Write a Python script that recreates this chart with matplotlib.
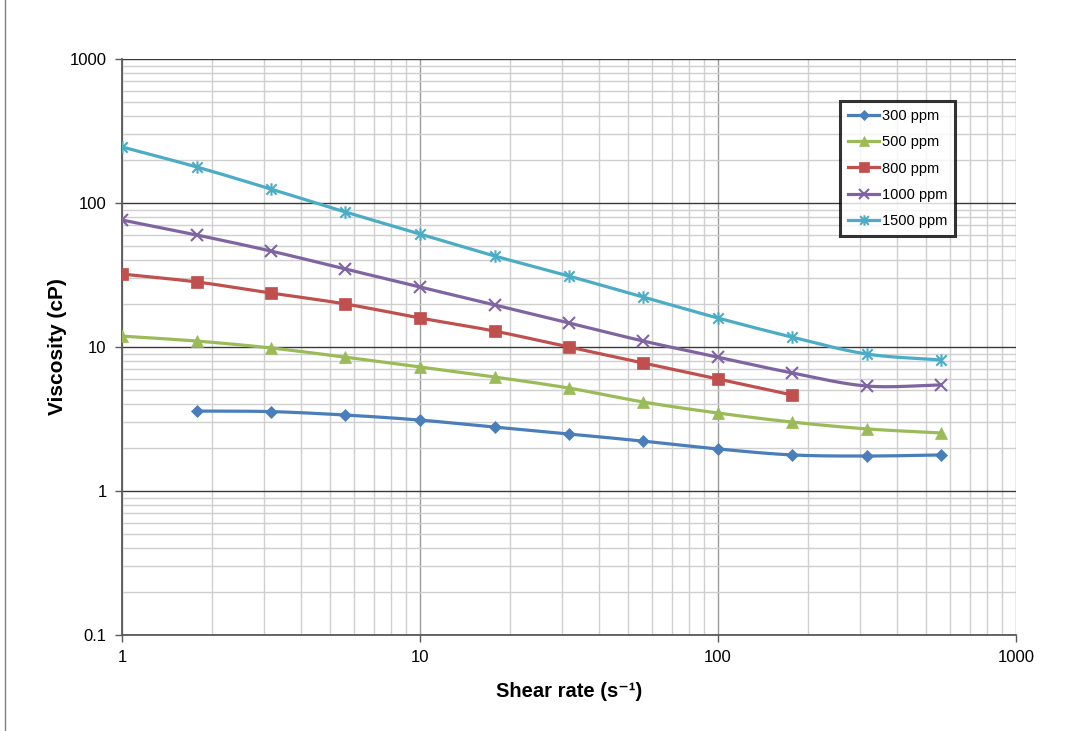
import numpy as np
import matplotlib
matplotlib.use("Agg")
import matplotlib.pyplot as plt
from matplotlib.ticker import LogLocator, NullFormatter
from matplotlib.lines import Line2D
from matplotlib.path import Path

plt.rcParams['font.family'] = ['Liberation Sans', 'DejaVu Sans']

# Shear rates (s^-1), four points per decade
shear_rate = [1.0, 1.78, 3.16, 5.62, 10.0, 17.8, 31.6, 56.2, 100.0, 178.0, 316.0, 562.0]

# Viscosity (cP) for each polymer concentration
visc_300 = [None, 3.59, 3.56, 3.37, 3.11, 2.78, 2.49, 2.22, 1.96, 1.78, 1.75, 1.78]
visc_500 = [11.9, 11.0, 9.85, 8.5, 7.27, 6.19, 5.19, 4.15, 3.48, 3.01, 2.70, 2.53]
visc_800 = [32.1, 28.3, 23.7, 19.9, 15.9, 12.9, 10.0, 7.74, 6.0, 4.64, None, None]
visc_1000 = [76.2, 60.0, 46.4, 34.8, 26.1, 19.6, 14.7, 11.0, 8.5, 6.6, 5.36, 5.45]
visc_1500 = [245, 178, 125, 86.6, 61.0, 42.9, 31.1, 22.2, 15.9, 11.7, 8.94, 8.13]

labels = ["300 ppm", "500 ppm", "800 ppm", "1000 ppm", "1500 ppm"]
colors = ["#4A7EBB", "#9BBB59", "#C0504D", "#8064A2", "#4BACC6"]

# asterisk-style marker: an x with a vertical stroke
star_path = Path([(-1, -1), (1, 1), (-1, 1), (1, -1), (0, -1.2), (0, 1.2)],
                 [Path.MOVETO, Path.LINETO, Path.MOVETO, Path.LINETO, Path.MOVETO, Path.LINETO])
markers = ["D", "^", "s", "x", star_path]
msizes = [6.5, 8, 8, 8, 9]


def smooth_curve(x, y, n=20):
    """Catmull-Rom spline through points in log-log space."""
    lx, ly = np.log10(x), np.log10(y)
    P = np.column_stack([lx, ly])
    ext = np.vstack([P[0] - (P[1] - P[0]), P, P[-1] + (P[-1] - P[-2])])
    out = []
    for i in range(1, len(ext) - 2):
        p0, p1, p2, p3 = ext[i - 1], ext[i], ext[i + 1], ext[i + 2]
        t = np.linspace(0, 1, n, endpoint=False)[:, None]
        seg = 0.5 * ((2 * p1) + (-p0 + p2) * t + (2 * p0 - 5 * p1 + 4 * p2 - p3) * t ** 2
                     + (-p0 + 3 * p1 - 3 * p2 + p3) * t ** 3)
        out.append(seg)
    out.append(P[-1:])
    out = np.vstack(out)
    return 10 ** out[:, 0], 10 ** out[:, 1]


fig = plt.figure(figsize=(10.7, 7.31), dpi=100)
ax = fig.add_axes([0.114, 0.1313, 0.8353, 0.788])

ax.set_xscale('log')
ax.set_yscale('log')
ax.set_xlim(1, 1000)
ax.set_ylim(0.1, 1000)

series = [visc_300, visc_500, visc_800, visc_1000, visc_1500]
handles = []
for vals, lab, col, mk, ms in zip(series, labels, colors, markers, msizes):
    pts = [(x, v) for x, v in zip(shear_rate, vals) if v is not None]
    xs = np.array([p[0] for p in pts])
    ys = np.array([p[1] for p in pts])
    sx, sy = smooth_curve(xs, ys)
    ax.plot(sx, sy, color=col, lw=2.3, zorder=3, solid_capstyle='round')
    line_marker = not isinstance(mk, str) or mk == "x"
    mew = 1.5 if line_marker else 0.5
    mfc = 'none' if line_marker else col
    ax.plot(xs, ys, linestyle='none', marker=mk, markersize=ms, color=col,
            markerfacecolor=mfc, markeredgecolor=col, markeredgewidth=mew, zorder=4)
    handles.append(Line2D([], [], color=col, lw=2.3, marker=mk, markersize=ms - 1.5,
                          markerfacecolor=mfc, markeredgecolor=col,
                          markeredgewidth=mew, label=lab))

# Grid lines: light minor, darker major
ax.xaxis.set_minor_locator(LogLocator(base=10, subs=np.arange(2, 10)))
ax.yaxis.set_minor_locator(LogLocator(base=10, subs=np.arange(2, 10)))
ax.xaxis.set_minor_formatter(NullFormatter())
ax.yaxis.set_minor_formatter(NullFormatter())
ax.grid(which='minor', color='#cfcfcf', lw=1.0, zorder=0)
ax.grid(which='major', axis='y', color='#3a3a3a', lw=1.0, zorder=1)
ax.grid(which='major', axis='x', color='#9a9a9a', lw=1.0, zorder=1)

ax.set_xticks([1, 10, 100, 1000])
ax.set_xticklabels(["1", "10", "100", "1000"])
ax.set_yticks([0.1, 1, 10, 100, 1000])
ax.set_yticklabels(["0.1", "1", "10", "100", "1000"])
ax.tick_params(which='major', length=5, width=1, color='#595959', labelsize=12, pad=6)
ax.tick_params(which='minor', length=0)

for side in ['top', 'right']:
    ax.spines[side].set_visible(False)
for side in ['left', 'bottom']:
    ax.spines[side].set_color('#595959')
    ax.spines[side].set_linewidth(1.3)

ax.set_xlabel("Shear rate (s\u207b\u00b9)", fontsize=14.5, fontweight='bold', labelpad=12)
ax.set_ylabel("Viscosity (cP)", fontsize=15, fontweight='bold', labelpad=2)

leg = ax.legend(handles=handles, loc='upper left', bbox_to_anchor=(0.8036, 0.927),
                borderaxespad=0, frameon=True, fancybox=False, fontsize=10.5,
                handlelength=2.1, handletextpad=0.2, labelspacing=0.84, borderpad=0.55)
leg.get_frame().set_edgecolor('black')
leg.get_frame().set_linewidth(2.2)
leg.set_zorder(6)

# outer chart border on the left
fig.add_artist(Line2D([0.0045, 0.0045], [0.0, 1.0], color='#7f7f7f', lw=1.0,
                      transform=fig.transFigure))

fig.savefig("out.png", dpi=100)
